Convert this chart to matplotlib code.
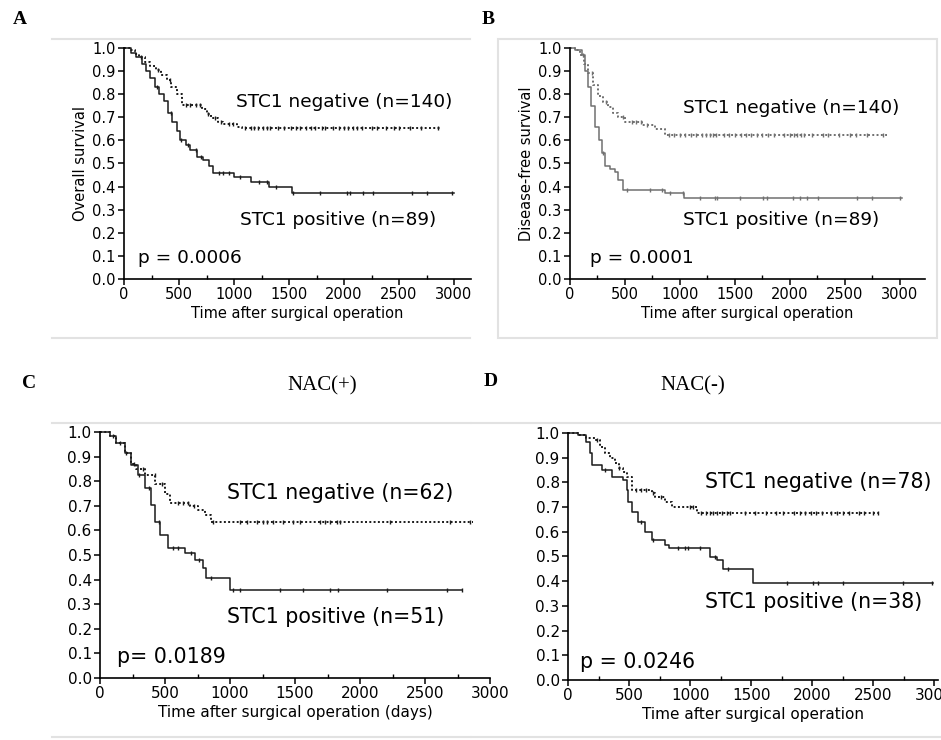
import numpy as np
import matplotlib
matplotlib.use("Agg")
import matplotlib.pyplot as plt
from matplotlib.lines import Line2D
from matplotlib.patches import Rectangle
from matplotlib.ticker import MultipleLocator

# ---- data: step times (days) and survival after each step ----
A_neg_t = [0, 60, 100, 140, 190, 240, 290, 340, 390, 430, 480, 530, 710, 750, 790, 850, 900, 1030, 1075, 2880]
A_neg_s = [1.0, 0.99, 0.975, 0.96, 0.94, 0.92, 0.905, 0.885, 0.86, 0.83, 0.80, 0.755, 0.735, 0.715, 0.695, 0.68, 0.67, 0.66, 0.655, 0.655]
A_pos_t = [0, 60, 110, 160, 200, 240, 280, 320, 360, 400, 440, 480, 510, 560, 600, 660, 720, 770, 810, 1000, 1150, 1320, 1530, 3000]
A_pos_s = [1.0, 0.98, 0.96, 0.93, 0.90, 0.87, 0.83, 0.80, 0.77, 0.72, 0.68, 0.64, 0.60, 0.58, 0.56, 0.53, 0.515, 0.49, 0.46, 0.44, 0.42, 0.40, 0.37, 0.37]
A_neg_cens = [150, 310, 420, 560, 600, 650, 690, 760, 830, 880, 950, 990, 1100, 1150, 1180, 1220, 1260, 1300,
              1330, 1400, 1450, 1520, 1560, 1600, 1650, 1700, 1740, 1800, 1830, 1900, 1950, 2000, 2040, 2080,
              2120, 2160, 2250, 2300, 2380, 2450, 2500, 2600, 2700, 2850]
A_pos_cens = [300, 430, 520, 580, 650, 700, 860, 900, 950, 1050, 1230, 1300, 1380, 1540, 1780, 2030, 2055,
              2170, 2265, 2620, 2755, 2980]

B_neg_t = [0, 45, 90, 130, 165, 210, 255, 300, 345, 390, 436, 500, 655, 773, 864, 2880]
B_neg_s = [1.0, 0.99, 0.97, 0.93, 0.89, 0.84, 0.79, 0.765, 0.745, 0.72, 0.70, 0.68, 0.667, 0.65, 0.623, 0.623]
B_pos_t = [0, 50, 110, 140, 165, 195, 227, 260, 290, 318, 360, 409, 436, 482, 864, 1040, 3020]
B_pos_s = [1.0, 0.99, 0.97, 0.90, 0.83, 0.75, 0.66, 0.60, 0.545, 0.49, 0.475, 0.465, 0.43, 0.385, 0.37, 0.35, 0.35]
B_neg_cens = [200, 330, 480, 560, 600, 650, 700, 900, 950, 1000, 1050, 1100, 1150, 1200, 1240, 1270, 1300,
              1330, 1400, 1450, 1500, 1560, 1600, 1650, 1700, 1750, 1800, 1860, 1950, 2000, 2040, 2070, 2100,
              2130, 2200, 2300, 2350, 2450, 2550, 2600, 2700, 2850]
B_pos_cens = [120, 300, 518, 727, 836, 909, 1027, 1182, 1318, 1336, 1545, 1755, 1791, 2027, 2091, 2155, 2255,
              2609, 2745, 3000]

C_neg_t = [0, 75, 120, 190, 240, 277, 346, 423, 500, 538, 692, 754, 808, 854, 2870]
C_neg_s = [1.0, 0.985, 0.955, 0.915, 0.87, 0.85, 0.825, 0.79, 0.75, 0.71, 0.70, 0.683, 0.663, 0.634, 0.634]
C_pos_t = [0, 75, 123, 192, 238, 292, 346, 392, 423, 462, 523, 654, 731, 792, 815, 1000, 2785]
C_pos_s = [1.0, 0.985, 0.955, 0.915, 0.866, 0.825, 0.772, 0.703, 0.634, 0.581, 0.528, 0.508, 0.48, 0.447, 0.406, 0.358, 0.358]
C_neg_cens = [150, 260, 330, 420, 480, 600, 640, 680, 720, 870, 1077, 1130, 1207, 1254, 1284, 1331, 1408,
              1485, 1538, 1692, 1731, 1769, 1823, 1846, 2231, 2692, 2846]
C_pos_cens = [100, 200, 300, 380, 450, 560, 600, 700, 760, 850, 1023, 1077, 1385, 1562, 1769, 1831, 2208,
              2669, 2785]

D_neg_t = [0, 82, 150, 221, 260, 303, 345, 385, 420, 451, 484, 525, 689, 713, 795, 852, 1057, 2541]
D_neg_s = [1.0, 0.99, 0.98, 0.97, 0.945, 0.92, 0.90, 0.88, 0.86, 0.84, 0.82, 0.77, 0.755, 0.74, 0.72, 0.70, 0.676, 0.676]
D_pos_t = [0, 82, 150, 180, 197, 279, 361, 451, 484, 492, 525, 574, 631, 689, 795, 828, 1164, 1221, 1270, 1516, 2992]
D_pos_s = [1.0, 0.99, 0.964, 0.92, 0.87, 0.85, 0.82, 0.81, 0.77, 0.72, 0.68, 0.64, 0.60, 0.567, 0.547, 0.534,
           0.498, 0.486, 0.449, 0.393, 0.393]
D_neg_cens = [240, 420, 560, 600, 640, 700, 760, 1000, 1020, 1090, 1130, 1160, 1190, 1220, 1260, 1300, 1330,
              1450, 1530, 1620, 1700, 1760, 1850, 1900, 1940, 1990, 2030, 2080, 2150, 2200, 2250, 2300, 2380,
              2420, 2500, 2541]
D_pos_cens = [300, 600, 700, 902, 959, 984, 1082, 1200, 1310, 1795, 2008, 2049, 2254, 2746, 2984]

yticks = np.round(np.arange(0, 1.01, 0.1), 1)

fig = plt.figure(figsize=(9.41, 7.40), dpi=100)

# light gray framing lines around the panels (pixel coords)
frame = '#e2e2e2'
for (x0, x1, y) in [(52, 470, 39), (52, 470, 338), (52, 470, 423), (52, 470, 737), (472, 941, 423), (472, 941, 737)]:
    fig.add_artist(Line2D([x0 / 941, x1 / 941], [1 - y / 740, 1 - y / 740], transform=fig.transFigure,
                          color=frame, lw=1.5))
fig.add_artist(Rectangle((498 / 941, 1 - 338 / 740), 439 / 941, 299 / 740, transform=fig.transFigure,
                         fill=False, edgecolor=frame, lw=1.5))


def step_at(t, s, x):
    idx = np.searchsorted(t, x, side='right') - 1
    return np.asarray(s)[idx]


def km_panel(rect, xmax, neg, pos, color, fs_tick):
    ax = fig.add_axes(rect)
    nt, ns, nc = neg
    pt, ps, pc = pos
    ax.step(pt, ps, where='post', color=color, lw=1.1, clip_on=False)
    ax.step(nt, ns, where='post', color=color, lw=1.4, linestyle=(0, (1, 1.2)), clip_on=False)
    ax.plot(pc, step_at(pt, ps, pc), linestyle='none', marker='|', ms=3.5, mew=1.0, color=color, clip_on=False)
    ax.plot(nc, step_at(nt, ns, nc), linestyle='none', marker='|', ms=3.5, mew=1.0, color=color, clip_on=False)
    ax.set_xlim(0, xmax)
    ax.set_ylim(0, 1.0)
    ax.set_yticks(yticks)
    ax.set_yticklabels(['%.1f' % v for v in yticks])
    ax.set_xticks(np.arange(0, 3001, 500))
    ax.xaxis.set_minor_locator(MultipleLocator(250))
    ax.spines['top'].set_visible(False)
    ax.spines['right'].set_visible(False)
    ax.spines['left'].set_linewidth(1.2)
    ax.spines['bottom'].set_linewidth(1.2)
    ax.tick_params(axis='both', which='major', direction='out', length=4, width=1.1, labelsize=fs_tick, pad=2)
    ax.tick_params(axis='x', which='minor', direction='in', length=3, width=1.0)
    return ax


# A
axA = km_panel([0.1318, 0.623, 0.3682, 0.3122], 3150,
               (A_neg_t, A_neg_s, A_neg_cens), (A_pos_t, A_pos_s, A_pos_cens), '#1a1a1a', 10.5)
axA.text(1018, 0.766, 'STC1 negative (n=140)', fontsize=13.3, va='center')
axA.text(1055, 0.255, 'STC1 positive (n=89)', fontsize=13.3, va='center')
axA.text(127, 0.09, 'p = 0.0006', fontsize=13.3, va='center')
axA.set_ylabel('Overall survival', fontsize=10.5, labelpad=3)
axA.set_xlabel('Time after surgical operation', fontsize=10.5, labelpad=3)

# B
axB = km_panel([0.6057, 0.623, 0.3773, 0.3122], 3230,
               (B_neg_t, B_neg_s, B_neg_cens), (B_pos_t, B_pos_s, B_pos_cens), '#707070', 10.5)
axB.text(1027, 0.74, 'STC1 negative (n=140)', fontsize=13.3, va='center')
axB.text(1027, 0.255, 'STC1 positive (n=89)', fontsize=13.3, va='center')
axB.text(182, 0.09, 'p = 0.0001', fontsize=13.3, va='center')
axB.set_ylabel('Disease-free survival', fontsize=10.5, labelpad=3)
axB.set_xlabel('Time after surgical operation', fontsize=10.5, labelpad=3)

# C
axC = km_panel([0.1063, 0.0838, 0.4145, 0.3324], 3000,
               (C_neg_t, C_neg_s, C_neg_cens), (C_pos_t, C_pos_s, C_pos_cens), '#1a1a1a', 11)
axC.text(977, 0.752, 'STC1 negative (n=62)', fontsize=14.8, va='center')
axC.text(977, 0.248, 'STC1 positive (n=51)', fontsize=14.8, va='center')
axC.text(130, 0.085, 'p= 0.0189', fontsize=14.8, va='center')
axC.set_xlabel('Time after surgical operation (days)', fontsize=11, labelpad=3)

# D
axD = km_panel([0.6036, 0.0811, 0.3932, 0.3338], 3030,
               (D_neg_t, D_neg_s, D_neg_cens), (D_pos_t, D_pos_s, D_pos_cens), '#1a1a1a', 11)
axD.text(1123, 0.80, 'STC1 negative (n=78)', fontsize=14.8, va='center')
axD.text(1123, 0.316, 'STC1 positive (n=38)', fontsize=14.8, va='center')
axD.text(98, 0.073, 'p = 0.0246', fontsize=14.8, va='center')
axD.set_xlabel('Time after surgical operation', fontsize=11, labelpad=3)

# panel letters and subgroup titles
for lbl, x, y in [('A', 20, 20), ('B', 488, 20), ('C', 29, 383), ('D', 491, 382)]:
    fig.text(x / 941, 1 - y / 740, lbl, fontsize=14, fontweight='bold', family='Liberation Serif',
             ha='center', va='center')
fig.text(322 / 941, 1 - 386 / 740, 'NAC(+)', fontsize=15, family='Liberation Serif', ha='center', va='center')
fig.text(693 / 941, 1 - 386 / 740, 'NAC(-)', fontsize=15, family='Liberation Serif', ha='center', va='center')

fig.savefig('out.png', dpi=100)
